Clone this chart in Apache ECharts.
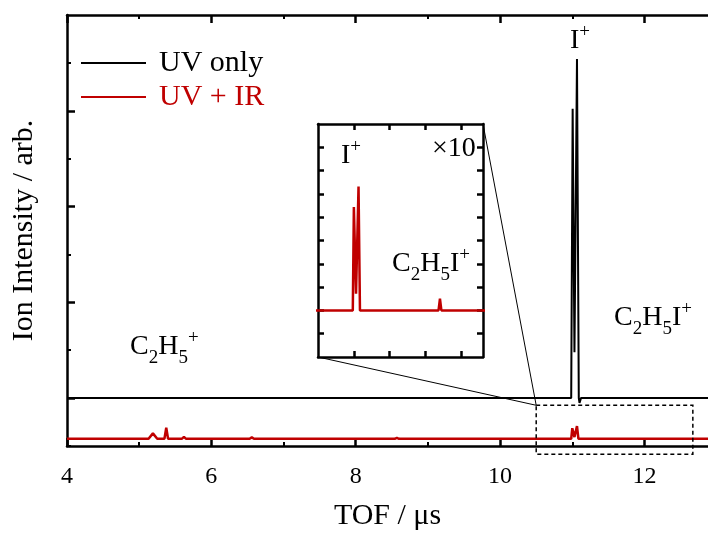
<!DOCTYPE html>
<html><head><meta charset="utf-8">
<script src="https://cdn.jsdelivr.net/npm/echarts@6/dist/echarts.min.js"></script>
<style>html,body{margin:0;padding:0;background:#fff}#c{width:708px;height:534px}</style>
</head><body><div id="c"></div>
<script>
// ---- data ----
const uvOnlyTof    = [4.0, 5.60, 5.62, 5.64, 8.55, 8.57, 8.59, 10.985, 11.005, 11.03, 11.065, 11.09, 11.10, 11.12, 12.88];
const uvOnlySignal = [1.0, 1.0,  1.03, 1.0,  1.0,  1.03, 1.0,  1.0,    7.04,   1.96,  8.08,   1.0,   0.9,   1.0,   1.0];

const uvIrTof    = [4.0, 5.13, 5.19, 5.25, 5.35, 5.375, 5.40, 5.59, 5.62, 5.65, 6.53, 6.56, 6.59, 8.54, 8.57, 8.60, 10.985, 11.0, 11.03, 11.065, 11.085, 12.18, 12.2, 12.22, 12.88];
const uvIrSignal = [0.15, 0.15, 0.263, 0.15, 0.15, 0.383, 0.15, 0.15, 0.19, 0.15, 0.15, 0.18, 0.15, 0.15, 0.17, 0.15, 0.15, 0.372, 0.186, 0.416, 0.15, 0.15, 0.175, 0.15, 0.15];

const seriesNames = ['UV only', 'UV + IR'];
const xRange = [4, 12.88];
const yRange = [0, 9];
const xMajorTicks = [4, 6, 8, 10, 12];
const xMinorTicks = [5, 7, 9, 11];
const yLongTicks = [1, 3, 5, 7];
const yShortTicks = [0, 2, 4, 6, 8];

const insetXRange = [10.5, 12.8];
const insetYRange = [0.05, 0.55];
const insetXTicks = [11, 11.5, 12, 12.5];
const insetYTicks = [0.1, 0.15, 0.2, 0.25, 0.3, 0.35, 0.4, 0.45, 0.5];
const insetScaleLabel = '×10';
const zoomBoxX = [10.5, 12.67];
const zoomBoxY = [-0.17, 0.85];

// ---- styling ----
const F = '"Liberation Serif","Times New Roman",serif';
const RED = '#c00000';
const pairs = (xs, ys) => xs.map((x, i) => [x, ys[i]]);

const chart = echarts.init(document.getElementById('c'), null, {renderer: 'canvas'});

function ax(grid, pos, range, ticks, len, width, lineShow, extra) {
  return Object.assign({
    type: 'value', gridIndex: grid, position: pos, min: range[0], max: range[1],
    axisLine: {show: lineShow, onZero: false, lineStyle: {color: '#000', width: 2.5}},
    axisTick: {show: true, inside: true, length: len, customValues: ticks, lineStyle: {color: '#000', width: width}},
    axisLabel: {show: false}, splitLine: {show: false}
  }, extra || {});
}

const option = {
  animation: false,
  backgroundColor: '#fff',
  grid: [
    {left: 67, top: 15, width: 641, height: 431, containLabel: false, outerBoundsMode: 'none'},
    {left: 318, top: 124, width: 165, height: 233, containLabel: false, outerBoundsMode: 'none'}
  ],
  legend: {
    orient: 'vertical', left: 76, top: 43, itemWidth: 65, itemHeight: 2, itemGap: 4,
    icon: 'rect',
    data: [
      {name: seriesNames[0], textStyle: {color: '#000'}},
      {name: seriesNames[1], textStyle: {color: RED}}
    ],
    textStyle: {fontSize: 30, fontFamily: F, padding: [0, 0, 0, 8]}
  },
  xAxis: [
    ax(0, 'bottom', xRange, xMajorTicks, 8, 2.5, true, {
      axisLabel: {show: true, customValues: xMajorTicks, fontSize: 24, fontFamily: F, color: '#000', margin: 19},
      name: 'TOF / μs', nameLocation: 'middle', nameGap: 55,
      nameTextStyle: {fontSize: 30, fontFamily: F, color: '#000'}
    }),
    ax(0, 'bottom', xRange, xMinorTicks, 4, 2, false),
    ax(0, 'top', xRange, xMajorTicks, 8, 2.5, true),
    ax(0, 'top', xRange, xMinorTicks, 4, 2, false),
    ax(1, 'bottom', insetXRange, insetXTicks, 6, 2.5, true),
    ax(1, 'top', insetXRange, insetXTicks, 6, 2.5, true)
  ],
  yAxis: [
    ax(0, 'left', yRange, yLongTicks, 8, 2.5, true, {
      name: 'Ion Intensity / arb.', nameLocation: 'middle', nameGap: 28, nameRotate: 90,
      nameTextStyle: {fontSize: 30, fontFamily: F, color: '#000'}
    }),
    ax(0, 'left', yRange, yShortTicks, 4, 2, false),
    ax(1, 'left', insetYRange, insetYTicks, 6, 2.5, true),
    ax(1, 'right', insetYRange, insetYTicks, 6, 2.5, true)
  ],
  series: [
    {name: seriesNames[1], type: 'line', xAxisIndex: 0, yAxisIndex: 0, data: pairs(uvIrTof, uvIrSignal),
     symbol: 'none', color: RED, lineStyle: {color: RED, width: 2.5}},
    {name: seriesNames[0], type: 'line', xAxisIndex: 0, yAxisIndex: 0, data: pairs(uvOnlyTof, uvOnlySignal),
     symbol: 'none', color: '#000', lineStyle: {color: '#000', width: 2}},
    {name: 'inset', type: 'line', xAxisIndex: 4, yAxisIndex: 2, data: pairs(uvIrTof, uvIrSignal),
     symbol: 'none', clip: true, color: RED, lineStyle: {color: RED, width: 2.5}}
  ]
};
chart.setOption(option);

// ---- annotations: zoom box, connectors, labels ----
const mainF = {xAxisIndex: 0, yAxisIndex: 0};
const insF = {xAxisIndex: 4, yAxisIndex: 2};
const boxTL = chart.convertToPixel(mainF, [zoomBoxX[0], zoomBoxY[1]]);
const boxBR = chart.convertToPixel(mainF, [zoomBoxX[1], zoomBoxY[0]]);
const insBL = chart.convertToPixel(insF, [insetXRange[0], insetYRange[0]]);
const insTR = chart.convertToPixel(insF, [insetXRange[1], insetYRange[1]]);

const rich = {
  b: {fontSize: 28, fontFamily: F, color: '#000', verticalAlign: 'bottom', padding: [4, 0, 7, 0]},
  s: {fontSize: 19, fontFamily: F, color: '#000', verticalAlign: 'bottom'},
  p: {fontSize: 19, fontFamily: F, color: '#000', verticalAlign: 'top'}
};
function label(x, y, text) {
  return {type: 'text', x: x, y: y, z: 100, style: {text: text, rich: rich, verticalAlign: 'top', align: 'left'}};
}

chart.setOption({
  graphic: [
    {type: 'rect', z: 50, shape: {x: boxTL[0], y: boxTL[1], width: boxBR[0] - boxTL[0], height: boxBR[1] - boxTL[1]},
     style: {fill: 'none', stroke: '#000', lineWidth: 1.5, lineDash: [4, 3]}},
    {type: 'line', z: 50, shape: {x1: insBL[0], y1: insBL[1], x2: boxTL[0], y2: boxTL[1]}, style: {stroke: '#000', lineWidth: 1}},
    {type: 'line', z: 50, shape: {x1: insTR[0], y1: insTR[1], x2: boxTL[0], y2: boxTL[1]}, style: {stroke: '#000', lineWidth: 1}},
    label(570, 23, '{b|I}{p|+}'),
    label(130, 329, '{b|C}{s|2}{b|H}{s|5}{p|+}'),
    label(614, 300, '{b|C}{s|2}{b|H}{s|5}{b|I}{p|+}'),
    label(341, 138, '{b|I}{p|+}'),
    label(392, 246, '{b|C}{s|2}{b|H}{s|5}{b|I}{p|+}'),
    {type: 'text', x: 432, y: 135, z: 100, style: {text: insetScaleLabel, fontSize: 28, fontFamily: F, fill: '#000', verticalAlign: 'top'}}
  ]
});
</script></body></html>
